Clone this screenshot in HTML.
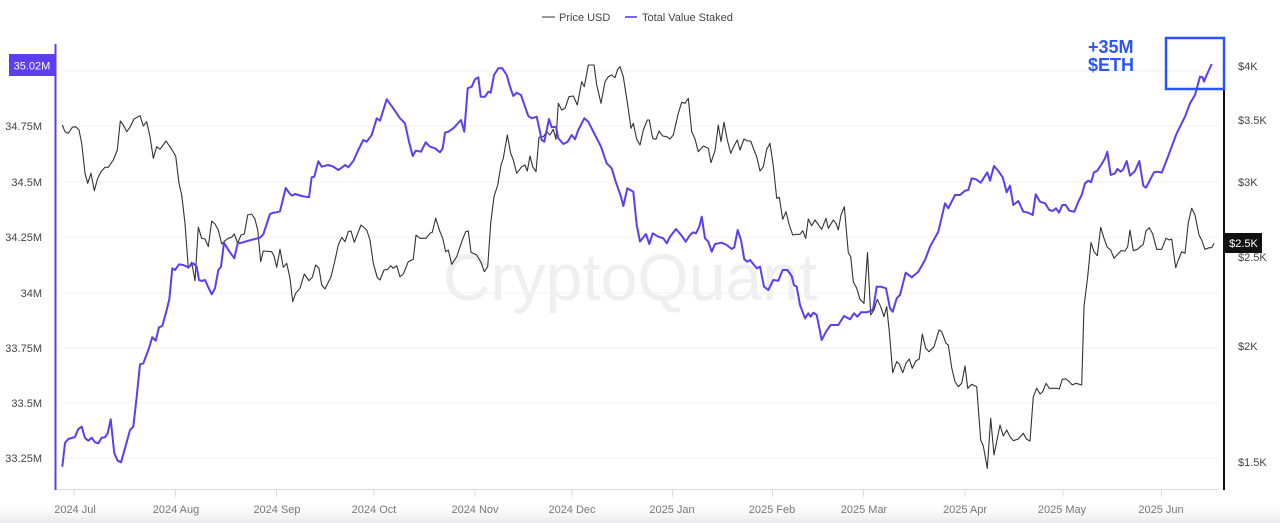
<!DOCTYPE html>
<html><head><meta charset="utf-8"><style>
html,body{margin:0;padding:0;background:#fff;}
svg{display:block;font-family:"Liberation Sans",Arial,sans-serif;}
</style></head><body>
<svg width="1280" height="523" viewBox="0 0 1280 523" xmlns="http://www.w3.org/2000/svg">
<defs>
<linearGradient id="bg" x1="0" y1="0" x2="0" y2="1">
<stop offset="0" stop-color="#fff" stop-opacity="0"/>
<stop offset="1" stop-color="#e9e9ec" stop-opacity="1"/>
</linearGradient>
</defs>
<rect width="1280" height="523" fill="#fff"/>
<rect x="0" y="500" width="1280" height="23" fill="url(#bg)"/>
<!-- legend -->
<line x1="542" y1="17" x2="555" y2="17" stroke="#777" stroke-width="1.5"/>
<text x="559" y="21" font-size="11" fill="#444">Price USD</text>
<line x1="625" y1="17" x2="637" y2="17" stroke="#4b32f0" stroke-width="1.5"/>
<text x="642" y="21" font-size="11" fill="#444">Total Value Staked</text>
<!-- watermark -->
<text x="443" y="300" font-size="66" fill="#efeff2" font-weight="normal">CryptoQuant</text>
<!-- gridlines -->
<g stroke="#f0f0f2" stroke-width="1">
<line x1="62" y1="71" x2="1218" y2="71"/>
<line x1="62" y1="126" x2="1218" y2="126"/>
<line x1="62" y1="182" x2="1218" y2="182"/>
<line x1="62" y1="237" x2="1218" y2="237"/>
<line x1="62" y1="293" x2="1218" y2="293"/>
<line x1="62" y1="348" x2="1218" y2="348"/>
<line x1="62" y1="403" x2="1218" y2="403"/>
<line x1="62" y1="458" x2="1218" y2="458"/>
</g>
<!-- x axis -->
<line x1="55" y1="489.5" x2="1218" y2="489.5" stroke="#dcdce4" stroke-width="1"/>
<g stroke="#dcdce4" stroke-width="1">
<line x1="74" y1="489" x2="74" y2="497"/>
<line x1="175.5" y1="489" x2="175.5" y2="497"/>
<line x1="276.5" y1="489" x2="276.5" y2="497"/>
<line x1="374" y1="489" x2="374" y2="497"/>
<line x1="475" y1="489" x2="475" y2="497"/>
<line x1="572" y1="489" x2="572" y2="497"/>
<line x1="672.5" y1="489" x2="672.5" y2="497"/>
<line x1="772.5" y1="489" x2="772.5" y2="497"/>
<line x1="863.5" y1="489" x2="863.5" y2="497"/>
<line x1="965" y1="489" x2="965" y2="497"/>
<line x1="1063" y1="489" x2="1063" y2="497"/>
<line x1="1161.5" y1="489" x2="1161.5" y2="497"/>
</g>
<g font-size="11" fill="#777" text-anchor="middle">
<text x="75" y="513">2024 Jul</text>
<text x="176" y="513">2024 Aug</text>
<text x="277" y="513">2024 Sep</text>
<text x="374" y="513">2024 Oct</text>
<text x="475" y="513">2024 Nov</text>
<text x="572" y="513">2024 Dec</text>
<text x="672" y="513">2025 Jan</text>
<text x="772" y="513">2025 Feb</text>
<text x="864" y="513">2025 Mar</text>
<text x="965" y="513">2025 Apr</text>
<text x="1062" y="513">2025 May</text>
<text x="1161" y="513">2025 Jun</text>
</g>
<!-- left axis -->
<line x1="55.5" y1="44" x2="55.5" y2="490" stroke="#5a3ff2" stroke-width="2"/>
<g font-size="11" fill="#444" text-anchor="end">
<text x="42" y="130">34.75M</text>
<text x="42" y="186">34.5M</text>
<text x="42" y="241">34.25M</text>
<text x="42" y="297">34M</text>
<text x="42" y="352">33.75M</text>
<text x="42" y="407">33.5M</text>
<text x="42" y="462">33.25M</text>
</g>
<rect x="9" y="54" width="46" height="22" fill="#5a3ff2"/>
<text x="32" y="69.5" font-size="11" fill="#fff" text-anchor="middle">35.02M</text>
<!-- right axis -->
<line x1="1224" y1="89" x2="1224" y2="490" stroke="#111" stroke-width="2"/>
<g font-size="11" fill="#444">
<text x="1238" y="70">$4K</text>
<text x="1238" y="124">$3.5K</text>
<text x="1238" y="186">$3K</text>
<text x="1238" y="261">$2.5K</text>
<text x="1238" y="350">$2K</text>
<text x="1238" y="466">$1.5K</text>
</g>
<rect x="1225" y="233" width="37" height="20" fill="#111"/>
<text x="1243.5" y="247" font-size="11" fill="#fff" text-anchor="middle">$2.5K</text>
<!-- price series -->
<polyline fill="none" stroke="#333" stroke-width="1.1" stroke-linejoin="round" points="
62.3,125 65,131.7 68.3,133.3 72.3,127.3 75.7,126.7 79,130 81.7,143.3 85,173.3 87.7,183.3 91,173.3 94.3,190.7 97.7,178.3 101,171.7 105,167.3 108.3,167.3 113.3,160 117.3,150 120.3,121 123.3,125 126.7,131.7 130,127.3 134,119 140,115.7 143.3,126 146.7,121.7 150,136.7 153.3,158.3 156.7,146.7 160,149.3 166,141 171,148.3 175.7,156 179,183.3 181.7,195 185,223.3 188.3,268.3 191.7,262.3 195,280.7 198.3,227.3 201.7,238.3 205,239 208.3,246.7 211.7,221 215,224 218.3,230 221.7,244 225,240.7 228.3,238.3 231.7,237.3 234.3,234 237.7,243.3 241,235 244.3,234 247.7,215 251.7,214 255,219.3 257.7,230 260.7,261.7 263.3,251 271.7,251.7 274,256 276.7,267.3 280,249.3 283.3,267.3 286.7,263.3 290,278.3 292.7,301.7 295.7,293.3 300,288.3 304.3,274 309,280.7 312.3,277.3 315.7,265 319,268.3 321.7,285 325,289 331,276.7 334.3,263.3 338.3,245 341.7,237.3 345,241.7 348.3,231.7 351,231 354.3,242.3 361,225 366.7,230 370,240 373.3,263.3 377.3,277.7 380,280 384,270 387.7,269.3 390.7,265.7 393.3,268.3 396.7,265.7 400,276.7 403.3,274 408.3,261.7 413.3,259.3 416,235 420,238.3 426,238.3 430,233.3 432.3,232.3 435.7,218.3 440,231.7 442.7,238.3 445.7,251.7 448.3,250 451.7,264.3 456.7,256.7 461.7,241.7 465.7,231.7 468.3,231 471,252.3 476.7,255 481,262.3 484.3,271.7 487.7,266.7 490.7,223.3 494,196.7 497.7,185 501,165 503.3,158.3 507.3,135 510.7,153.3 513.3,160 516.7,173.3 521.7,166.7 525,165 527.3,171 530,156 532.7,166.7 536,171.7 539,137.3 543.3,136.7 546.7,131.7 550,135 553.3,129.3 556,139.3 558.3,103.3 561.7,110 565,108.3 569,96.7 573.3,96 577.3,105 581.7,81.7 584.3,86.7 588.3,65 594,65 596.7,85 601,103.3 605,81.7 608.3,76.7 611.7,75 615,77.7 617.7,69.3 620,66.7 623.3,76.7 627.7,105 631,128.3 633.3,123.3 636.7,139.3 640,145 643.3,130 647.3,120 649.3,120 652.7,138.3 656,139.3 659,131 662.7,136 666.7,136.7 670,139 673.3,135 678.3,113.3 681.7,102.3 685,103.3 688.3,98.3 691.7,131.7 695,139 698.3,151.7 703.3,146 708.3,148.3 711,162.7 715,150.7 718.3,125 721,141.7 724,122.3 727.3,140 730.7,153.3 734,146 737.3,140 740,150 744,139 747.3,141 750.7,141 754,150 756.7,156.7 760,171 763.3,166.7 766.7,149.3 770,143.3 773.3,166 776.7,198.3 779.3,197.3 782.7,219.3 786,211.7 789.3,225 792.7,235 796.7,234.3 800,234.3 802.7,230.7 805.7,238.3 808.3,219 811.7,225.7 815,220 821.7,229.3 826,218.3 828.3,228.3 833.3,220 836,223.3 838.3,230 841,215 844.3,206.7 848.3,252.7 850.7,256.7 853.3,281.7 856.7,288.3 860,299.3 864,303.3 867.5,252.5 870.7,315 874,310 877.3,299.3 880.7,306.7 884,316.7 886.7,306.7 889.3,331.7 892.7,372.7 896.7,361.7 899.3,364 902.7,372.7 906,363.3 909.3,359 912.3,368.3 916,360.7 919.3,359 922.3,334 925.7,348.3 929,351.7 934,346.7 939,330 941.7,331.7 946,343.3 948.3,345 951.7,367.7 955,381.7 958.3,386.7 961.7,383.3 965,366 967.7,388.3 971.7,384.3 976.7,386.7 980.7,440 983.3,446 987.3,468.3 990.7,418.3 994,455 1000,425 1003.3,436 1006.7,430 1010,436.7 1013.3,440.7 1018.3,439 1023.3,433.3 1026.7,439.3 1030,441 1033.3,396.7 1036.7,388.3 1040,394 1042.7,391.7 1046,383.3 1049.3,388.3 1056.7,388.3 1059.3,389 1062.3,379.3 1066,379 1069.3,381.7 1072.3,385 1076,383.3 1081.7,385 1084,306.7 1087.7,276.7 1091,242.7 1094,251.7 1097.3,255.7 1100.7,227.3 1104,238.3 1107.3,247.3 1110.7,250 1114,258.3 1117.7,254.3 1121,250.7 1125,251 1127.7,246.7 1130,230 1133.3,250.7 1137.3,249.3 1143.3,244.3 1146,231 1149.3,227.7 1152.7,234 1156.7,249.3 1161.7,249.3 1166,238.3 1169.3,240 1171.7,239 1175.7,267.7 1178.3,260 1181.7,251.7 1185,253.3 1188.3,222.7 1191.7,208.3 1195,215 1199,235 1201.7,240 1205,249.3 1209.3,247.7 1211.7,247.7 1214,243.3"/>
<!-- total value staked series -->
<polyline fill="none" stroke="#5a3ff2" stroke-width="2" stroke-linejoin="round" points="
62.3,466.7 65,443 68.3,439 75,437 78.3,429 81.7,426.7 85,438 88.3,440.7 91.7,437.7 95,442.3 98.3,443.3 101.7,437.7 105,437.3 107.7,433.3 110.7,419.3 114.3,453.3 117.7,460.7 121,462.3 125,448.3 130,430 133.3,426.7 136.7,396.7 140,364.3 143.3,363.3 148.3,350 152.3,337.3 155.7,340.7 159,327.3 162.3,326 166,312.7 169.3,299.3 172.3,268.3 175,270 179,264.3 183.3,265 188.3,267.3 193.3,263.3 196.7,266.7 199,280 201.7,281 205,280 208.3,287.3 211.7,294.3 215,288.3 218.3,270 221,266.7 224,242.7 228.3,250 234.3,258.3 237.7,243.3 241.7,242.7 248.3,240.7 255,239 260,237.7 263.3,234.3 270,214 273.3,212.7 276.7,212.3 280,211.3 285.7,188 290,194 292.3,195.7 295,194 301.7,196 309,197.3 311.7,177.3 314.3,176.7 318.3,161.3 321.7,166.7 328.3,165 333.3,166.7 338.3,170 342.3,167.3 345,165 348.3,167.3 353.3,161 358.3,150 363.3,140 366.7,141.7 371.7,135 376.7,118.3 380,120.7 386.7,99.3 393.3,108.3 400,118.3 405,123.3 409,141.7 412.7,156 415.7,150.7 421,151.7 425.7,142.3 430,146.7 435,148.3 440,152.3 442.7,148.3 445,132.7 448.3,131.7 453.3,128.3 461,120 464.3,131.7 467.7,88.3 471.7,86.7 475,79.3 478.3,77.3 480.7,96.7 485,96.7 488.3,91.7 490.7,92.7 494,75 498.3,68.3 502.3,68.3 506.7,75 510,86.7 513.3,96 516.7,92.7 521,95 525,106.7 528.3,116 531.7,118.3 536.7,116.7 541.7,140 544.3,141.7 549,119 551.7,127.3 556,126.7 558.3,138.3 563.3,144 567.7,141.7 571.7,135 575,139.3 578.3,130 584.3,118.3 588.3,121.7 595,135 601,146.7 606.7,163.3 611.7,168.3 615.7,181.7 621,196.7 623.3,206 627.3,188.3 633.3,191.7 636.7,225 640,241.5 646,234 649.3,244 652.7,233.3 658.3,236.7 663.3,238.3 666.7,243.3 670,236.7 676,229 681.7,235.7 685.7,241.7 690,235 693.3,232.3 696,233.3 699.3,226.7 701.7,216.7 705,238.3 708.3,241.7 711.7,251.7 715,244 721.7,242.7 726.7,245 731.7,249 734.3,247.3 737.7,230 741,240 744.3,259.3 747.3,261.7 750,260 756.7,268.3 760,266.7 764,286.7 768.3,290 773.3,280 778.3,280.7 782.7,270 787.3,270 791.7,276 794,285 796.7,286.7 800,305 805,318.3 808.3,313.3 810.7,316.7 813.3,312.7 816.7,315 821.7,340 826,331.7 830.7,325 838.3,325 844,316 850,319.3 854,313.3 857.3,316.7 861,312.3 866.7,312.3 871.7,310.7 873.3,308.3 876.7,286.7 880.7,286.7 886,288.3 890,308.3 892.7,311.7 896.7,298.3 900,295 905.7,272.7 911.7,277.3 918.3,271.7 925,260 930,246.7 938.3,231.7 945,203.3 948.3,208.3 955,195 960,195 965,190.7 968.3,190 971.7,178.3 976,179.3 980.7,182.7 987.3,172.3 990,180.7 994,166 998.3,171 1002.7,177.3 1006.7,192.3 1010,185.7 1013.3,205 1018.3,201 1023.3,211.7 1028.3,212.7 1032.7,215 1035.7,194.3 1040,201.7 1045,203.3 1049.3,210 1052.7,211 1056,208.3 1059,212.7 1062.3,205 1065.7,205 1069.3,210.7 1074.3,211.7 1078.3,201.7 1081.7,195 1085,183.3 1088.3,180.7 1091,182.3 1094,172.3 1097.3,170.7 1101.7,164 1105,158.3 1107.3,151.7 1110.7,175 1115,173.3 1117.3,169 1120.7,171.7 1123.3,169.3 1126.7,161 1130,175.7 1135,171 1139.3,161 1143.3,185.7 1146,187.7 1150,180 1154,172.3 1158.3,171.7 1161.7,172.7 1166.7,160 1176.7,133.3 1185,116.7 1190,103.3 1195,95 1200,76.7 1202.7,77.3 1204,81.7 1206.7,75 1211.7,64"/>
<!-- annotation -->
<rect x="1166" y="38" width="58" height="51" fill="none" stroke="#2b55f8" stroke-width="2.5"/>
<text x="1088" y="53" font-size="18" font-weight="bold" fill="#2b55f8">+35M</text>
<text x="1088" y="71" font-size="18" font-weight="bold" fill="#2b55f8">$ETH</text>
</svg>
</body></html>
